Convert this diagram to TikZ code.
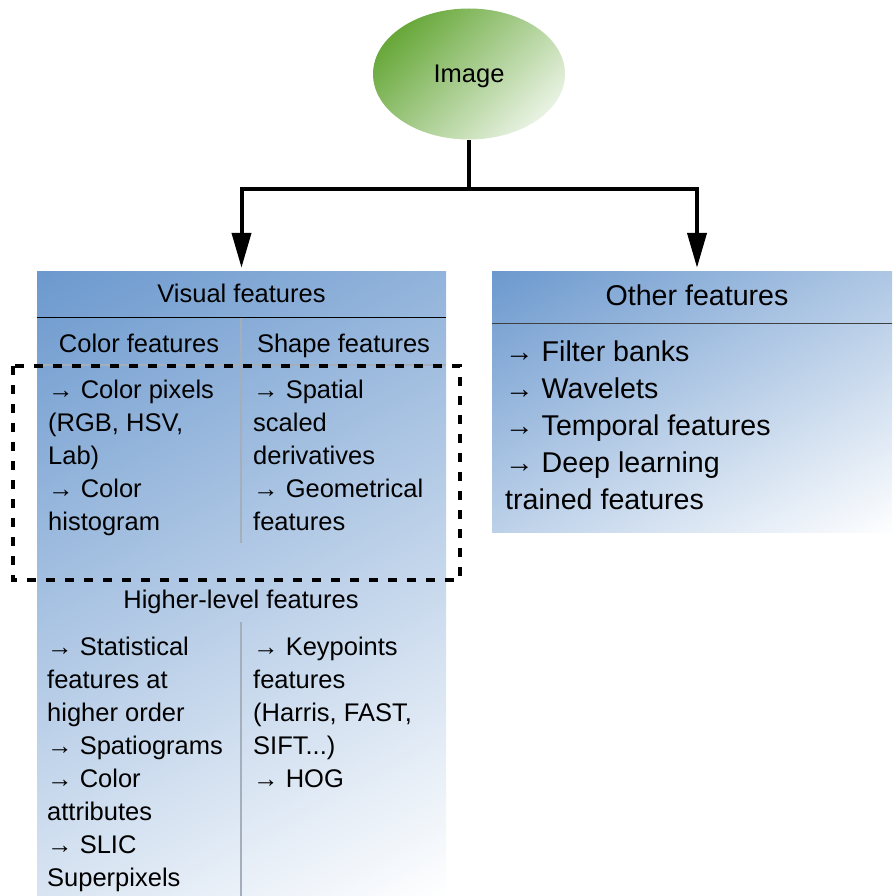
\documentclass[tikz,border=0pt]{standalone}
\usepackage{fontspec}
\setmainfont{Liberation Sans}
\usetikzlibrary{shapes.geometric,arrows.meta,positioning,calc}
\definecolor{bluedark}{RGB}{108,153,206}
\definecolor{greendark}{RGB}{104,168,58}
\definecolor{greenlight}{RGB}{232,242,226}
\definecolor{divgray}{RGB}{165,175,188}
\pgfdeclareverticalshading{panelshade}{100bp}{color(0bp)=(bluedark);
  color(16bp)=(bluedark); color(84bp)=(white); color(100bp)=(white)}
\tikzstyle{imgnode} = [ellipse, minimum width=192pt, minimum height=131pt, inner
sep=0pt, top color=greendark, bottom color=greenlight, shading angle=45]
\tikzstyle{panel} = [rectangle, inner sep=0pt, shading=panelshade, shading angle=208.3]
\tikzstyle{arrow} = [line width=4pt,-{Triangle[length=35pt,width=19pt]}]
\tikzstyle{link} = [line width=4pt]
\tikzstyle{title} = [inner sep=0pt, anchor=base, font=\fontsize{25.5}{33}\selectfont]
\tikzstyle{items} = [inner sep=0pt, anchor=base west, font=\fontsize{25.5}{33}\selectfont]
\tikzstyle{divider} = [divgray, line width=1.3pt]
\tikzstyle{dashbox} = [line width=4pt, dash pattern=on 9pt off 10pt]

\begin{document}
\begin{tikzpicture}[x=1pt, y=-1pt]
  \useasboundingbox (0,0) rectangle (892,896);
  \clip (0,0) rectangle (892,896);

  \node (img) [imgnode, font=\fontsize{25.5}{30}\selectfont] at (469,74)
  {\raisebox{-9pt}[0pt][0pt]{Image}};
  \node (visual) [panel, minimum width=409pt, minimum height=629pt] at (241.5,585.5) {};
  \node (other) [panel, minimum width=410pt, minimum height=261pt] at (697,401.5) {};

  % visual features panel
  \draw[black, line width=1.3pt] (visual.north west) ++(0,47) -- ++(409,0);
  \draw[divider] (37,365) -- (446,365);
  \draw[divider] (241,318) -- (241,543);
  \draw[divider] (241,622) -- (241,900);

  \node (vistitle) [title] at (241.5,302) {Visual features};
  \node (colhead) [title] at (139,352) {Color features};
  \node (shphead) [title] at (343.5,352) {Shape features};
  \node (colitems) [items] at (48,398) {\parbox[t]{190pt}{\raggedright
      → Color pixels\\(RGB, HSV,\\Lab)\\→ Color\\histogram}};
  \node (shpitems) [items] at (253,398) {\parbox[t]{190pt}{\raggedright
      → Spatial\\scaled\\derivatives\\→ Geometrical\\features}};

  \node (hightitle) [title] at (241,608) {Higher-level features};
  \node (highleft) [items] at (47,655) {\parbox[t]{190pt}{\raggedright
      → Statistical\\features at\\higher order\\→ Spatiograms\\→
      Color\\attributes\\→ SLIC\\Superpixels}};
  \node (highright) [items] at (253,655) {\parbox[t]{190pt}{\raggedright
      → Keypoints\\features\\(Harris, FAST,\\SIFT...)\\→ HOG}};

  % other features panel
  \draw[black!75, line width=1.3pt] (other.north west) ++(0,53) -- ++(410,0);
  \node (othtitle) [title, font=\fontsize{28.6}{37}\selectfont] at (697,305) {Other features};
  \node (othitems) [items, font=\fontsize{28.6}{37}\selectfont] at (505,361)
  {\parbox[t]{380pt}{\raggedright → Filter banks\\→ Wavelets\\→
      Temporal features\\→ Deep learning\\trained features}};

  % color and shape block
  \draw[dashbox] (13,366) rectangle (460,580);

  \coordinate (split) at (469,189);
  \draw[link] (img) -- (split);
  \draw[arrow, shorten >=3pt] (split) -| (visual.north);
  \draw[arrow, shorten >=3pt] (split) -| (other.north);
\end{tikzpicture}
\end{document}
